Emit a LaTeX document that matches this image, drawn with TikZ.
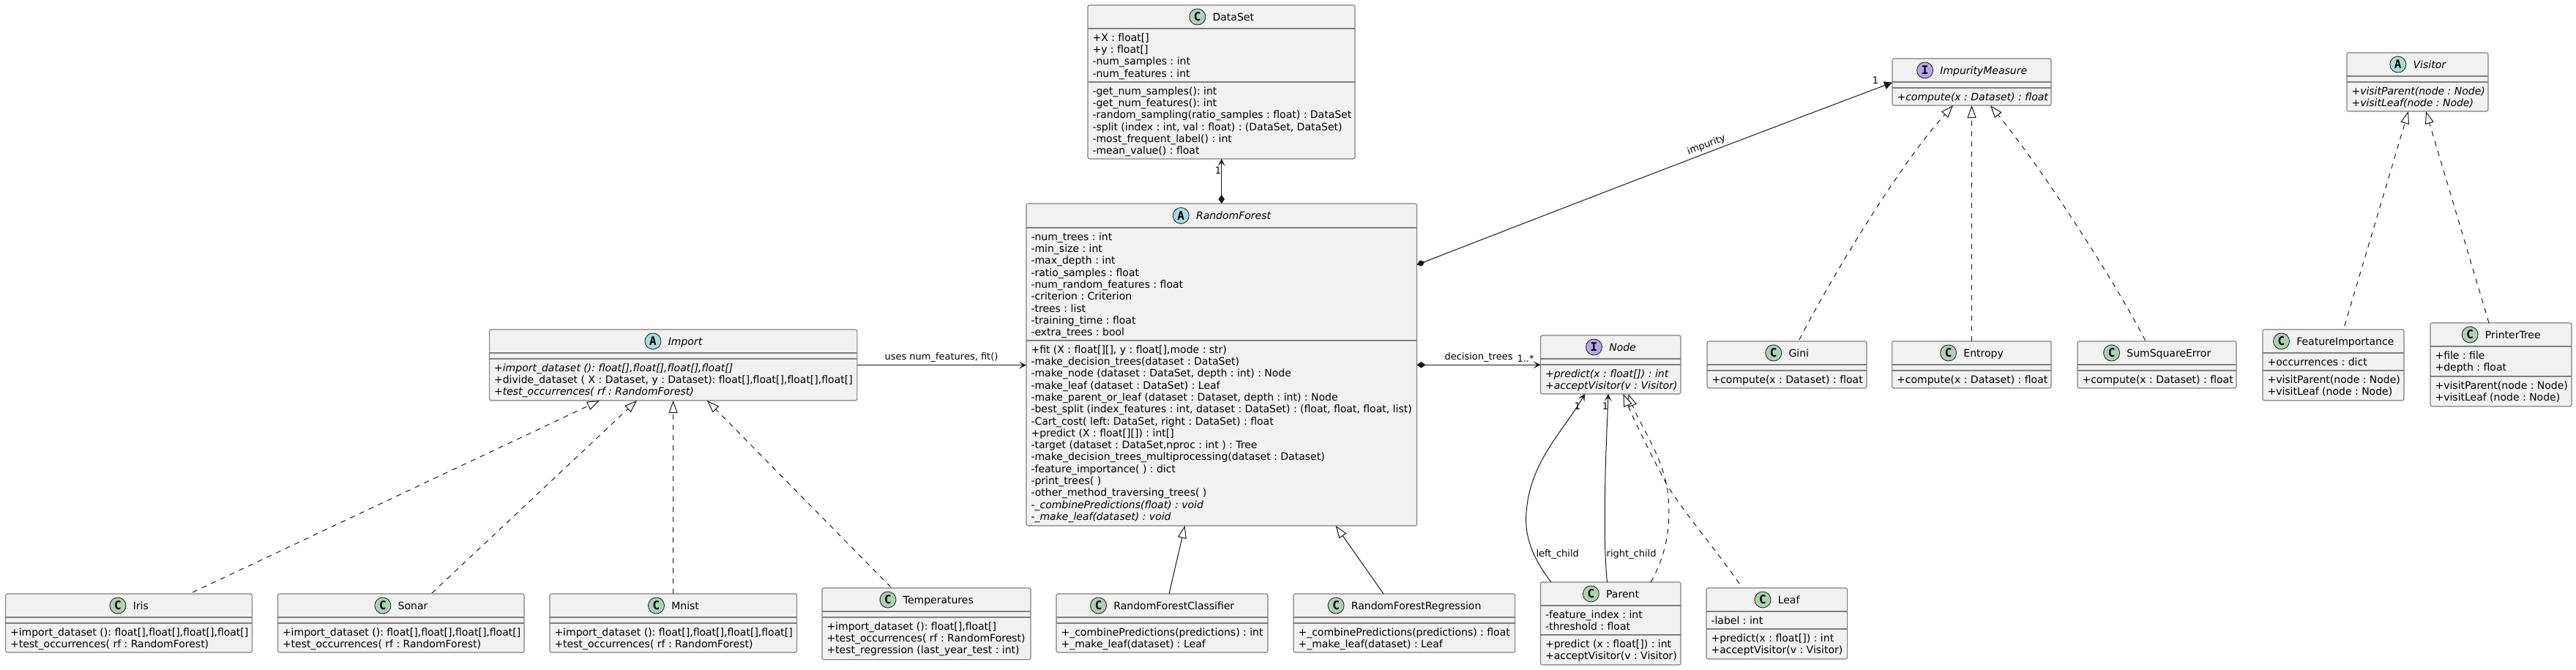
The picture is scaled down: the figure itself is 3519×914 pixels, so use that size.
\documentclass[tikz,border=0pt]{standalone}
\usepackage{fontspec}
\setmainfont{DejaVu Sans}
\newfontfamily\umlmono{DejaVu Sans Mono}
\usetikzlibrary{arrows.meta,calc}
\definecolor{boxfill}{HTML}{F1F1F1}
\definecolor{boxline}{HTML}{7F7F7F}
\definecolor{spotC}{HTML}{ADD1B2}
\definecolor{spotA}{HTML}{A9DCDF}
\definecolor{spotI}{HTML}{B4A7E5}
\tikzset{
  classbox/.style={draw=boxline,fill=boxfill,line width=1.1pt,rounded corners=2.5pt,inner sep=0pt,outer sep=0pt,anchor=north west},
  sepline/.style={draw=boxline,line width=1.1pt},
  rowtext/.style={inner sep=0pt,outer sep=0pt,anchor=north west,align=left,font=\fontsize{14}{16.3}\selectfont\frenchspacing,text=black},
  titletext/.style={inner sep=0pt,outer sep=0pt,anchor=base,font=\fontsize{14}{16.3}\selectfont\frenchspacing,text=black},
  spot/.style={circle,draw=black!90,line width=0.8pt,minimum size=22pt,inner sep=0pt,outer sep=0pt,font=\fontsize{16}{16}\selectfont\umlmono\bfseries,text=black},
  conn/.style={draw=black!90,line width=1pt},
  realize/.style={conn,dash pattern=on 7pt off 7pt,-{Triangle[length=17pt,width=12pt,fill=white]}},
  extend/.style={conn,-{Triangle[length=17pt,width=12pt,fill=white]}},
  assoc/.style={conn,-{Stealth[length=10pt,width=10pt,inset=5pt]}},
  comp/.style={conn,{Diamond[length=12pt,width=8.5pt]}-{Stealth[length=10pt,width=10pt,inset=5pt]}},
  compfill/.style={conn,{Diamond[length=12pt,width=8.5pt]}-{Triangle[length=11pt,width=11pt]}},
  lab/.style={inner sep=0pt,outer sep=0pt,font=\fontsize{13}{15}\selectfont\frenchspacing,text=black},
}
% id x1 y1 x2 hsep sep2 y2 kind title(with font shape)
\newcommand\umlclass[9]{%
  \node[classbox,minimum width={(#4-#2)*1pt},minimum height={(#7-#3)*1pt}] (#1) at (#2,#3) {};
  \draw[sepline] (#2,#5) -- (#4,#5);
  \draw[sepline] (#2,#6) -- (#4,#6);
  \node[titletext] (#1-title) at ({(#2+#4)/2+16.3},{(#3+#5)/2+5}) {#9};
  \node[spot,fill=spot#8] (#1-spot) at ([xshift=-20.8pt]#1-title.west |- 0,{(#3+#5)/2}) {#8};
}
\newcommand\umlrows[4]{\node[rowtext] (#1) at (#2,{#3+1.8}) {\strut #4};}
\begin{document}
\begin{tikzpicture}[x=1pt,y=-1pt]
\useasboundingbox[fill=white] (0,0) rectangle (3519,914);
% classes
\umlclass{dataset}{1486}{7}{1851}{39}{112}{217}{C}{DataSet}
\umlrows{dataset-a}{1492.5}{43}{+X : float[]\\+y : float[]\\-num\_samples : int\\-num\_features : int}
\umlrows{dataset-m}{1492.5}{116}{-get\_num\_samples(): int\\-get\_num\_features(): int\\-random\_sampling(ratio\_samples : float) : DataSet\\-split (index : int, val : float) : (DataSet, DataSet)\\-most\_frequent\_label() : int\\-mean\_value() : float}

\umlclass{rf}{1402}{278}{1935.5}{311}{465}{718}{A}{\itshape RandomForest}
\umlrows{rf-a}{1408.5}{315}{-num\_trees : int\\-min\_size : int\\-max\_depth : int\\-ratio\_samples : float\\-num\_random\_features : float\\-criterion : Criterion\\-trees : list\\-training\_time : float\\-extra\_trees : bool}
\umlrows{rf-m}{1408.5}{469}{+fit (X : float[][], y : float[],mode : str)\\-make\_decision\_trees(dataset : DataSet)\\-make\_node (dataset : DataSet, depth : int) : Node\\-make\_leaf (dataset : DataSet) : Leaf\\-make\_parent\_or\_leaf (dataset : Dataset, depth : int) : Node\\-best\_split (index\_features : int, dataset : DataSet) : (float, float, float, list)\\-Cart\_cost( left: DataSet, right : DataSet) : float\\+predict (X : float[][]) : int[]\\-target (dataset : DataSet,nproc : int ) : Tree\\-make\_decision\_trees\_multiprocessing(dataset : Dataset)\\-feature\_importance( ) : dict\\-print\_trees( )\\-other\_method\_traversing\_trees( )\\\textit{-\_combinePredictions(float) : void}\\\textit{-\_make\_leaf(dataset) : void}}

\umlclass{import}{668.6}{450}{1170.8}{482}{490}{547}{A}{\itshape Import}
\umlrows{import-m}{675.1}{494}{\textit{+import\_dataset (): float[],float[],float[],float[]}\\+divide\_dataset ( X : Dataset, y : Dataset): float[],float[],float[],float[]\\\textit{+test\_occurrences( rf : RandomForest)}}

\umlclass{iris}{7.6}{811}{344.4}{843}{851}{891}{C}{Iris}
\umlrows{iris-m}{14.1}{855}{+import\_dataset (): float[],float[],float[],float[]\\+test\_occurrences( rf : RandomForest)}
\umlclass{sonar}{379.5}{811}{716}{843}{851}{891}{C}{Sonar}
\umlrows{sonar-m}{386}{855}{+import\_dataset (): float[],float[],float[],float[]\\+test\_occurrences( rf : RandomForest)}
\umlclass{mnist}{751}{811}{1088.6}{843}{851}{891}{C}{Mnist}
\umlrows{mnist-m}{757.5}{855}{+import\_dataset (): float[],float[],float[],float[]\\+test\_occurrences( rf : RandomForest)}
\umlclass{temp}{1123}{803}{1408}{835}{843}{900.7}{C}{Temperatures}
\umlrows{temp-m}{1129.5}{847}{+import\_dataset (): float[],float[]\\+test\_occurrences( rf : RandomForest)\\+test\_regression (last\_year\_test : int)}
\umlclass{rfc}{1443}{811}{1732}{843}{851}{891}{C}{RandomForestClassifier}
\umlrows{rfc-m}{1449.5}{855}{+\_combinePredictions(predictions) : int\\+\_make\_leaf(dataset) : Leaf}
\umlclass{rfr}{1767}{811}{2069.6}{843}{851}{891}{C}{RandomForestRegression}
\umlrows{rfr-m}{1773.5}{855}{+\_combinePredictions(predictions) : float\\+\_make\_leaf(dataset) : Leaf}
\umlclass{parent}{2104.5}{795}{2296}{827}{867}{908}{C}{Parent}
\umlrows{parent-a}{2111}{831}{-feature\_index : int\\-threshold : float}
\umlrows{parent-m}{2111}{871}{+predict (x : float[]) : int\\+acceptVisitor(v : Visitor)}
\umlclass{leaf}{2331}{803}{2523.6}{835}{859}{900}{C}{Leaf}
\umlrows{leaf-a}{2337.5}{839}{-label : int}
\umlrows{leaf-m}{2337.5}{863}{+predict(x : float[]) : int\\+acceptVisitor(v : Visitor)}
\umlclass{treenode}{2104.5}{458}{2296}{490}{498}{538}{I}{\itshape Node}
\umlrows{treenode-m}{2111}{502}{\textit{+predict(x : float[]) : int}\\\textit{+acceptVisitor(v : Visitor)}}
\umlclass{gini}{2332}{466}{2550}{498}{506}{530}{C}{Gini}
\umlrows{gini-m}{2338.5}{510}{+compute(x : Dataset) : float}
\umlclass{entropy}{2584.6}{466}{2802}{498}{506}{530}{C}{Entropy}
\umlrows{entropy-m}{2591.1}{510}{+compute(x : Dataset) : float}
\umlclass{sse}{2838}{466}{3055}{498}{506}{530}{C}{SumSquareError}
\umlrows{sse-m}{2844.5}{510}{+compute(x : Dataset) : float}
\umlclass{fi}{3091}{450}{3284}{482}{506}{547}{C}{FeatureImportance}
\umlrows{fi-a}{3097.5}{486}{+occurrences : dict}
\umlrows{fi-m}{3097.5}{510}{+visitParent(node : Node)\\+visitLeaf (node : Node)}
\umlclass{pt}{3320}{441}{3513}{473}{514}{555}{C}{PrinterTree}
\umlrows{pt-a}{3326.5}{477}{+file : file\\+depth : float}
\umlrows{pt-m}{3326.5}{518}{+visitParent(node : Node)\\+visitLeaf (node : Node)}
\umlclass{imp}{2585}{80}{2802}{112}{120}{144}{I}{\itshape ImpurityMeasure}
\umlrows{imp-m}{2591.5}{124}{\textit{+compute(x : Dataset) : float}}
\umlclass{visitor}{3206}{72}{3399}{104}{112}{152}{A}{\itshape Visitor}
\umlrows{visitor-m}{3212.5}{116}{\textit{+visitParent(node : Node)}\\\textit{+visitLeaf(node : Node)}}
% connectors
\draw[comp] ([xshift=266.7pt]rf.north west) -- ([xshift=182.7pt]dataset.south west);
\draw[compfill] ([yshift=-83.7pt]rf.north east) .. controls (2130,286) and (2340,205) .. ([yshift=-32.7pt]imp.north west);
\draw[assoc] ([yshift=-48.7pt]import.north east) -- ([yshift=-220.7pt]rf.north west);
\draw[comp] ([yshift=-220.3pt]rf.north east) -- ([yshift=-40.3pt]treenode.north west);
\draw[realize] ([xshift=255.4pt,yshift=2pt]iris.north west) -- ([xshift=150.4pt]import.south west);
\draw[realize] ([xshift=210.5pt,yshift=1pt]sonar.north west) -- ([xshift=201.4pt]import.south west);
\draw[realize] ([xshift=168.6pt]mnist.north west) -- ([xshift=251pt]import.south west);
\draw[realize] ([xshift=94pt,yshift=1pt]temp.north west) -- ([xshift=297.4pt]import.south west);
\draw[extend] ([xshift=154pt]rfc.north west) -- ([xshift=216.6pt]rf.south west);
\draw[extend] ([xshift=123pt]rfr.north west) -- ([xshift=422.6pt]rf.south west);
\draw[realize] ([xshift=126pt,yshift=2pt]gini.north west) .. controls (2490,400) and (2590,230) .. ([xshift=83pt]imp.south west);
\draw[realize] ([xshift=108.9pt]entropy.north west) -- ([xshift=108.5pt]imp.south west);
\draw[realize] ([xshift=92.6pt,yshift=1pt]sse.north west) .. controls (2895,395) and (2797,240) .. ([xshift=134pt]imp.south west);
\draw[realize] ([xshift=111.8pt,yshift=5pt]fi.north west) -- ([xshift=84pt]visitor.south west);
\draw[realize] ([xshift=80pt]pt.north west) -- ([xshift=108pt]visitor.south west);
\draw[assoc] ([xshift=14.5pt]parent.north west) .. controls (2096,765) and (2082,735) .. (2085,700) .. controls (2090,630) and (2135,590) .. ([xshift=60.5pt]treenode.south west);
\draw[assoc] ([xshift=91pt]parent.north west) .. controls (2192,760) and (2192,720) .. (2192.4,680) .. controls (2193,630) and (2195,590) .. ([xshift=92.5pt]treenode.south west);
\draw[realize] ([xshift=150.5pt]parent.north west) .. controls (2275,760) and (2284,720) .. (2278,670) .. controls (2270,620) and (2240,580) .. ([xshift=119.8pt]treenode.south west);
\draw[realize] ([xshift=45pt,yshift=6pt]leaf.north west) .. controls (2340,745) and (2300,700) .. (2276,660) .. controls (2255,620) and (2235,580) .. ([xshift=112.8pt]treenode.south west);
% labels
\node[lab] (l-one-a) at (1664,233) {1};
\node[lab] (l-one-b) at (2562,110) {1};
\node[lab,rotate=21] (l-impurity) at (2331,198) {impurity};
\node[lab] (l-uses) at (1286,487.7) {uses num\_features, fit()};
\node[lab] (l-dec) at (2020,487.7) {decision\_trees};
\node[lab] (l-many) at (2084,490) {1..*};
\node[lab] (l-left) at (2127.7,756.7) {left\_child};
\node[lab] (l-right) at (2228.6,756.7) {right\_child};
\node[lab] (l-one-c) at (2155,555) {1};
\node[lab] (l-one-d) at (2193,555) {1};
\end{tikzpicture}
\end{document}
